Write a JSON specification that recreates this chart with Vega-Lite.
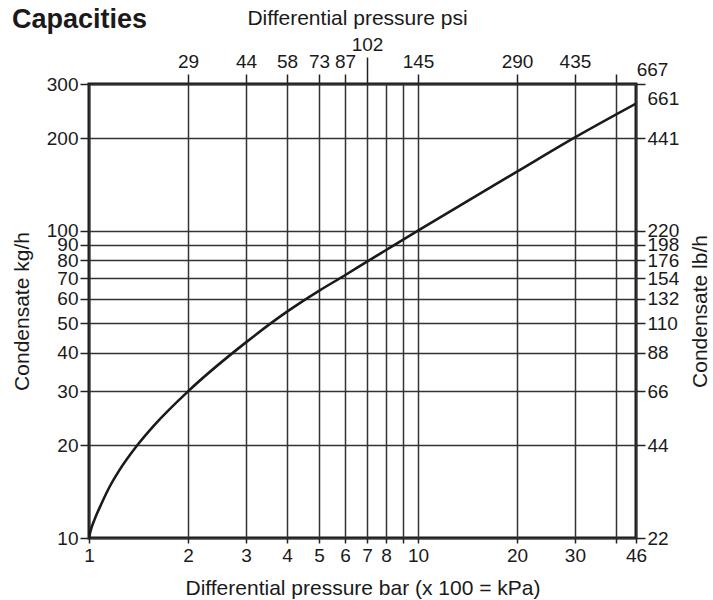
{
  "$schema": "https://vega.github.io/schema/vega-lite/v6.json",
  "width": 547,
  "height": 454,
  "autosize": {"type": "none"},
  "padding": {"left": 89, "top": 84, "right": 77, "bottom": 62},
  "background": "white",
  "title": {
    "text": "Capacities",
    "anchor": "start",
    "frame": "group",
    "font": "Liberation Sans",
    "fontSize": 27,
    "fontWeight": "bold",
    "color": "#1a1a1a",
    "dx": -77,
    "dy": 31
  },
  "config": {
    "view": {"stroke": "#1a1a1a", "strokeWidth": 3},
    "axis": {
      "labelFont": "Liberation Sans",
      "labelFontSize": 19,
      "labelColor": "#1a1a1a",
      "titleFont": "Liberation Sans",
      "titleFontSize": 21,
      "titleFontWeight": "normal",
      "titleColor": "#1a1a1a",
      "tickColor": "#222222",
      "tickWidth": 1.5,
      "gridColor": "#333333",
      "gridWidth": 1.5,
      "gridOpacity": 1,
      "domain": false,
      "labelFlush": false,
      "labelOverlap": false
    }
  },
  "data": {
    "values": [
      {"bar": 1, "kgh": 10},
      {"bar": 1.01, "kgh": 10.5},
      {"bar": 1.04, "kgh": 11.5},
      {"bar": 1.09, "kgh": 12.9},
      {"bar": 1.152, "kgh": 14.6},
      {"bar": 1.236, "kgh": 16.6},
      {"bar": 1.4, "kgh": 20},
      {"bar": 1.58, "kgh": 23.3},
      {"bar": 2, "kgh": 30},
      {"bar": 3, "kgh": 43.3},
      {"bar": 4, "kgh": 54.5},
      {"bar": 5, "kgh": 63.7},
      {"bar": 6, "kgh": 71.6},
      {"bar": 7, "kgh": 79.3},
      {"bar": 8, "kgh": 86.5},
      {"bar": 10, "kgh": 100},
      {"bar": 20, "kgh": 155.5},
      {"bar": 30, "kgh": 201},
      {"bar": 46, "kgh": 259}
    ]
  },
  "layer": [
    {
      "mark": {"type": "line", "interpolate": "monotone", "color": "#1a1a1a", "strokeWidth": 2.6, "clip": true},
      "encoding": {
        "x": {
          "field": "bar",
          "type": "quantitative",
          "scale": {"type": "log", "domain": [1, 46], "nice": false},
          "axis": {
            "orient": "bottom",
            "title": "Differential pressure bar (x 100 = kPa)",
            "values": [1, 2, 3, 4, 5, 6, 7, 8, 9, 10, 20, 30, 40, 46],
            "labelExpr": "datum.value == 9 || datum.value == 40 ? '' : datum.label",
            "grid": true,
            "tickSize": 5,
            "labelPadding": 3,
            "titleBaseline": "middle",
            "titleY": 50
          }
        },
        "y": {
          "field": "kgh",
          "type": "quantitative",
          "scale": {"type": "log", "domain": [10, 300], "nice": false},
          "axis": {
            "orient": "left",
            "title": "Condensate kg/h",
            "values": [10, 20, 30, 40, 50, 60, 70, 80, 90, 100, 200, 300],
            "labelExpr": "datum.label",
            "grid": true,
            "tickSize": 9,
            "labelPadding": 2,
            "titleAngle": -90,
            "titleBaseline": "middle",
            "titleX": -67,
            "titleY": 227
          }
        }
      }
    },
    {
      "mark": {"type": "line", "opacity": 0},
      "encoding": {
        "x": {
          "field": "bar",
          "type": "quantitative",
          "scale": {"type": "log", "domain": [1, 46], "nice": false},
          "axis": {
            "orient": "top",
            "title": "Differential pressure psi",
            "values": [2, 3, 4, 5, 6, 7, 10, 20, 30, 40, 46],
            "labelExpr": "datum.value == 40 ? '' : format(round(datum.value * 14.5038), 'd')",
            "grid": false,
            "tickSize": {"condition": [{"test": "datum.value == 7", "value": 27}, {"test": "datum.value == 46", "value": 0}], "value": 10},
            "labelPadding": {"condition": [{"test": "datum.value == 7", "value": 3}, {"test": "datum.value == 46", "value": 5}], "value": 3},
            "labelOffset": {"condition": {"test": "datum.value == 46", "value": 16}, "value": 0},
            "titleBaseline": "middle",
            "titleY": -66,
            "titleX": 268
          }
        },
        "y": {
          "field": "kgh",
          "type": "quantitative",
          "scale": {"type": "log", "domain": [10, 300], "nice": false},
          "axis": {
            "orient": "right",
            "title": "Condensate lb/h",
            "values": [10, 20, 30, 40, 50, 60, 70, 80, 90, 100, 200, 300],
            "labelExpr": "format(round(datum.value * 2.20462), 'd')",
            "grid": false,
            "tickSize": 9,
            "labelPadding": 2,
            "labelOffset": {"condition": {"test": "datum.value == 300", "value": 14}, "value": 0},
            "titleAngle": -90,
            "titleBaseline": "middle",
            "titleX": 64,
            "titleY": 227
          }
        }
      }
    }
  ],
  "resolve": {"scale": {"x": "independent", "y": "independent"}}
}
